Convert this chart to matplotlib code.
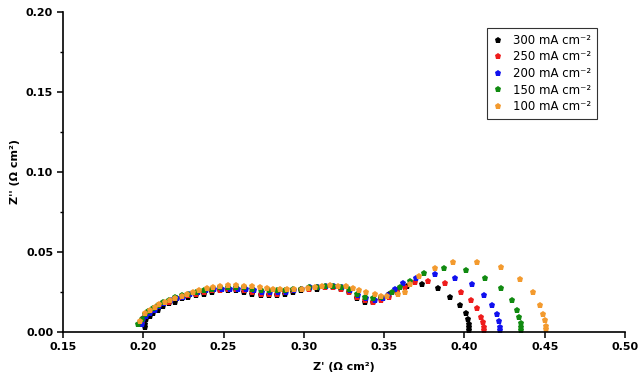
import numpy as np
import matplotlib
matplotlib.use('Agg')
import matplotlib.pyplot as plt
from matplotlib.ticker import MultipleLocator

labels = ['300 mA cm⁻²', '250 mA cm⁻²', '200 mA cm⁻²',
          '150 mA cm⁻²', '100 mA cm⁻²']
colors = ['black', '#ee1c1c', '#1010ee', '#108a10', '#f39a2e']

x_300 = [0.201, 0.201, 0.202, 0.204, 0.206, 0.209, 0.212, 0.216, 0.220, 0.224,
         0.228, 0.233, 0.238, 0.243, 0.248, 0.253, 0.258, 0.263, 0.268, 0.273,
         0.278, 0.283, 0.288, 0.293, 0.298, 0.303, 0.308, 0.313, 0.318, 0.323,
         0.328, 0.333, 0.338, 0.343, 0.348, 0.353, 0.358, 0.364, 0.3735, 0.3835,
         0.391, 0.397, 0.401, 0.402, 0.403, 0.403, 0.403]
y_300 = [0.003, 0.005, 0.008, 0.010, 0.012, 0.014, 0.016, 0.018, 0.019, 0.021,
         0.022, 0.023, 0.024, 0.025, 0.026, 0.026, 0.026, 0.025, 0.024, 0.023,
         0.023, 0.023, 0.024, 0.025, 0.026, 0.027, 0.027, 0.028, 0.028, 0.027,
         0.025, 0.021, 0.019, 0.019, 0.021, 0.024, 0.026, 0.029, 0.030, 0.0275,
         0.022, 0.017, 0.012, 0.008, 0.005, 0.003, 0.001]

x_250 = [0.199, 0.200, 0.202, 0.204, 0.206, 0.209, 0.212, 0.216, 0.220, 0.224,
         0.228, 0.233, 0.238, 0.243, 0.248, 0.253, 0.258, 0.263, 0.268, 0.273,
         0.278, 0.283, 0.288, 0.293, 0.298, 0.303, 0.308, 0.313, 0.318, 0.323,
         0.328, 0.333, 0.338, 0.343, 0.348, 0.353, 0.358, 0.363, 0.369, 0.377,
         0.388, 0.398, 0.404, 0.408, 0.410, 0.4115, 0.412, 0.412]
y_250 = [0.006, 0.009, 0.011, 0.013, 0.014, 0.016, 0.018, 0.019, 0.021, 0.022,
         0.023, 0.024, 0.025, 0.026, 0.026, 0.027, 0.027, 0.026, 0.025, 0.024,
         0.024, 0.024, 0.025, 0.026, 0.027, 0.027, 0.028, 0.028, 0.028, 0.027,
         0.025, 0.022, 0.020, 0.019, 0.020, 0.022, 0.025, 0.028, 0.031, 0.032,
         0.0306, 0.025, 0.020, 0.015, 0.0094, 0.006, 0.003, 0.0012]

x_200 = [0.199, 0.200, 0.202, 0.204, 0.207, 0.210, 0.213, 0.217, 0.221, 0.225,
         0.229, 0.234, 0.239, 0.244, 0.249, 0.254, 0.259, 0.264, 0.269, 0.274,
         0.279, 0.284, 0.289, 0.294, 0.299, 0.304, 0.309, 0.314, 0.319, 0.324,
         0.329, 0.334, 0.339, 0.344, 0.349, 0.3525, 0.3567, 0.362, 0.370, 0.3816,
         0.394, 0.4047, 0.412, 0.417, 0.420, 0.4215, 0.422, 0.422]
y_200 = [0.005, 0.008, 0.010, 0.012, 0.014, 0.016, 0.018, 0.020, 0.021, 0.022,
         0.024, 0.025, 0.026, 0.027, 0.027, 0.027, 0.027, 0.027, 0.026, 0.025,
         0.025, 0.025, 0.025, 0.026, 0.027, 0.028, 0.028, 0.029, 0.029, 0.028,
         0.026, 0.023, 0.021, 0.020, 0.021, 0.023, 0.027, 0.0306, 0.034, 0.036,
         0.034, 0.030, 0.023, 0.017, 0.011, 0.007, 0.003, 0.001]

x_150 = [0.197, 0.199, 0.201, 0.203, 0.206, 0.209, 0.212, 0.216, 0.220, 0.224,
         0.228, 0.233, 0.238, 0.243, 0.248, 0.253, 0.258, 0.263, 0.268, 0.273,
         0.278, 0.283, 0.288, 0.293, 0.298, 0.303, 0.308, 0.313, 0.318, 0.323,
         0.328, 0.333, 0.338, 0.343, 0.348, 0.355, 0.360, 0.366, 0.375, 0.387,
         0.401, 0.413, 0.423, 0.4296, 0.4327, 0.434, 0.435, 0.435, 0.435]
y_150 = [0.005, 0.008, 0.011, 0.013, 0.015, 0.017, 0.019, 0.020, 0.022, 0.023,
         0.024, 0.025, 0.026, 0.027, 0.028, 0.028, 0.028, 0.028, 0.027, 0.026,
         0.026, 0.026, 0.026, 0.027, 0.027, 0.028, 0.028, 0.029, 0.029, 0.028,
         0.027, 0.024, 0.022, 0.021, 0.022, 0.025, 0.028, 0.032, 0.037, 0.040,
         0.039, 0.034, 0.0275, 0.020, 0.0138, 0.0094, 0.0056, 0.003, 0.001]

x_100 = [0.198, 0.201, 0.204, 0.207, 0.210, 0.2135, 0.2166, 0.220, 0.224, 0.227,
         0.231, 0.235, 0.2397, 0.2434, 0.248, 0.253, 0.258, 0.263, 0.2677, 0.2727,
         0.277, 0.281, 0.285, 0.2895, 0.294, 0.299, 0.3025, 0.307, 0.311, 0.316,
         0.321, 0.326, 0.3306, 0.3345, 0.339, 0.344, 0.348, 0.352, 0.3586, 0.363,
         0.366, 0.372, 0.3816, 0.393, 0.408, 0.423, 0.4346, 0.4427, 0.447, 0.449,
         0.450, 0.451, 0.451]
y_100 = [0.007, 0.012, 0.014, 0.0156, 0.0175, 0.019, 0.020, 0.021, 0.0225, 0.0238,
         0.025, 0.026, 0.0275, 0.028, 0.029, 0.0294, 0.0294, 0.029, 0.029, 0.028,
         0.0275, 0.027, 0.027, 0.027, 0.027, 0.027, 0.0275, 0.028, 0.029, 0.0294,
         0.029, 0.029, 0.0275, 0.026, 0.025, 0.024, 0.0225, 0.0225, 0.024, 0.025,
         0.030, 0.035, 0.040, 0.044, 0.044, 0.0406, 0.033, 0.025, 0.017, 0.011,
         0.0075, 0.004, 0.002]

series = [(x_300, y_300), (x_250, y_250), (x_200, y_200), (x_150, y_150), (x_100, y_100)]

fig = plt.figure(figsize=(6.38, 3.82), dpi=100)
ax = fig.add_axes([0.0987, 0.131, 0.881, 0.8376])

for (xs, ys), lab, c in zip(series, labels, colors):
    ax.plot(xs, ys, linestyle='none', marker='p', markersize=4.8,
            color=c, markeredgewidth=0, label=lab)

ax.set_xlim(0.15, 0.50)
ax.set_ylim(0.0, 0.20)
ax.xaxis.set_major_locator(MultipleLocator(0.05))
ax.yaxis.set_major_locator(MultipleLocator(0.05))
ax.yaxis.set_minor_locator(MultipleLocator(0.025))
ax.xaxis.set_major_formatter(matplotlib.ticker.FormatStrFormatter('%.2f'))
ax.yaxis.set_major_formatter(matplotlib.ticker.FormatStrFormatter('%.2f'))

for s in ['top', 'right']:
    ax.spines[s].set_visible(False)
for s in ['left', 'bottom']:
    ax.spines[s].set_linewidth(1.2)
ax.tick_params(which='major', direction='out', length=4, width=1.1, labelsize=8, pad=3)
ax.tick_params(which='minor', direction='out', length=2.5, width=1.0)
for t in ax.get_xticklabels() + ax.get_yticklabels():
    t.set_fontweight('bold')

ax.set_xlabel("Z' (Ω cm²)", fontsize=8, fontweight='bold')
ax.set_ylabel("Z'' (Ω cm²)", fontsize=8, fontweight='bold')
ax.xaxis.set_label_coords(0.5, -0.094)
ax.yaxis.set_label_coords(-0.077, 0.5)

leg = ax.legend(loc='upper right', bbox_to_anchor=(0.95, 0.95), fontsize=8.5,
                frameon=True, fancybox=False, handlelength=0.8, handletextpad=0.9,
                borderpad=0.5, labelspacing=0.3, borderaxespad=0)
leg.get_frame().set_edgecolor('black')
leg.get_frame().set_linewidth(0.8)

fig.savefig('out.png', dpi=100)
